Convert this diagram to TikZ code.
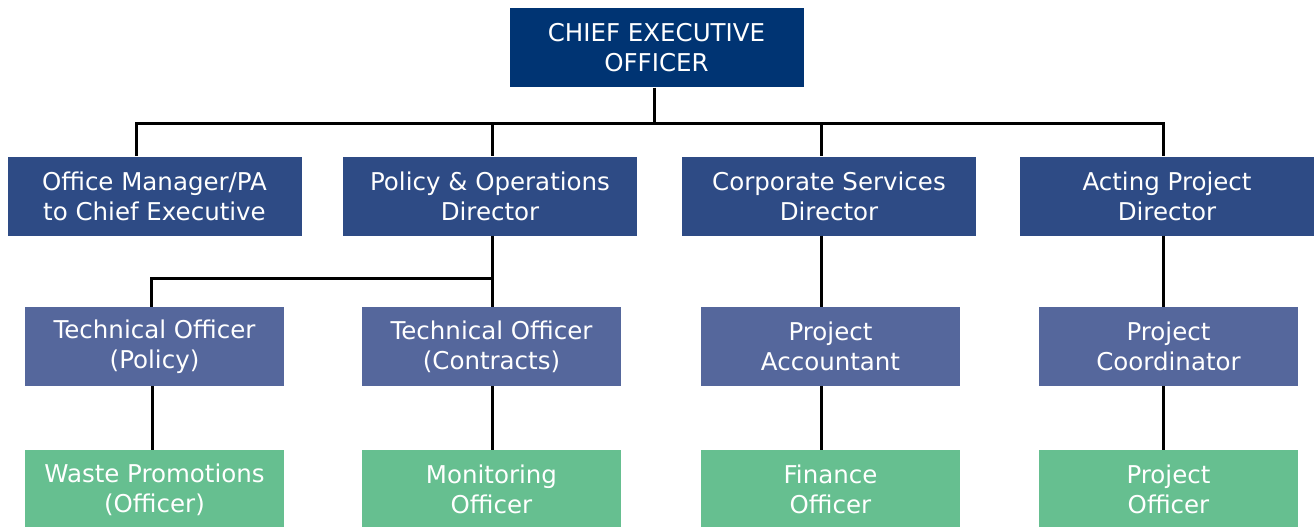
\documentclass[tikz,border=0pt]{standalone}
\usepackage{fontspec}
\setmainfont{DejaVu Sans}
\definecolor{ceoblue}{HTML}{003473}
\definecolor{dirblue}{HTML}{2E4B85}
\definecolor{offblue}{HTML}{55679C}
\definecolor{staffgreen}{HTML}{66BF90}
\begin{document}
\begin{tikzpicture}[x=1pt,y=-1pt,
  box/.style={draw=none,text=white,align=center,inner sep=0pt,
    font=\fontsize{24.5}{30}\selectfont},
  wide/.style={box,minimum width=294pt,minimum height=79pt},
  narrow/.style={box,minimum width=259pt,minimum height=79pt},
  link/.style={line width=3pt,black}]
  \useasboundingbox (0,0) rectangle (1315,527);
  \clip (0,0) rectangle (1315,527);
  % top
  \node[wide,fill=ceoblue] (ceo) at (656.5,48) {CHIEF EXECUTIVE\\OFFICER};
  % directors
  \node[wide,fill=dirblue] (pa) at (154.5,196) {Office Manager/PA\\to Chief Executive};
  \node[wide,fill=dirblue] (pod) at (490,196) {Policy \& Operations\\Director};
  \node[wide,fill=dirblue] (csd) at (829,196) {Corporate Services\\Director};
  \node[wide,fill=dirblue] (apd) at (1167,196) {Acting Project\\Director};
  % officers
  \node[narrow,fill=offblue] (top) at (154.5,346.5) {Technical Officer\\(Policy)};
  \node[narrow,fill=offblue] (toc) at (491.5,346.5) {Technical Officer\\(Contracts)};
  \node[narrow,fill=offblue] (pac) at (830.5,346.5) {Project\\Accountant};
  \node[narrow,fill=offblue] (pco) at (1168.5,346.5) {Project\\Coordinator};
  % staff
  \node[narrow,fill=staffgreen] (wpo) at (154.5,489.5) {Waste Promotions\\(Officer)};
  \node[narrow,fill=staffgreen] (mon) at (491.5,489.5) {Monitoring\\Officer};
  \node[narrow,fill=staffgreen] (fin) at (830.5,489.5) {Finance\\Officer};
  \node[narrow,fill=staffgreen] (pof) at (1168.5,489.5) {Project\\Officer};
  % connectors
  \coordinate (bus) at (654,123);
  \coordinate (split) at (492,278);
  \draw[link] ([xshift=-2.5pt]ceo.south) -- (bus);
  \draw[link,line cap=rect] (136,123) -- (1163,123);
  \draw[link] (136,123) -- (136,123 |- pa.north);
  \draw[link] (492,123) -- (492,123 |- pod.north);
  \draw[link] (821,123) -- (821,123 |- csd.north);
  \draw[link] (1163,123) -- (1163,123 |- apd.north);
  \draw[link] (split |- pod.south) -- (split);
  \draw[link,line cap=rect] (151,278) -- (split);
  \draw[link] (151,278) -- (151,278 |- top.north);
  \draw[link] (split) -- (split |- toc.north);
  \draw[link] (821,0 |- csd.south) -- (821,0 |- pac.north);
  \draw[link] (1163,0 |- apd.south) -- (1163,0 |- pco.north);
  \draw[link] (152,0 |- top.south) -- (152,0 |- wpo.north);
  \draw[link] (492,0 |- toc.south) -- (492,0 |- mon.north);
  \draw[link] (821,0 |- pac.south) -- (821,0 |- fin.north);
  \draw[link] (1163,0 |- pco.south) -- (1163,0 |- pof.north);
\end{tikzpicture}
\end{document}
